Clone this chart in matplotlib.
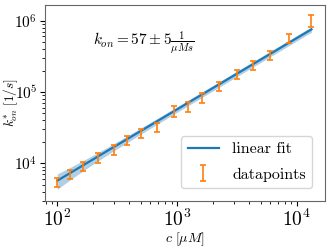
import numpy as np
import matplotlib
matplotlib.use("Agg")
import matplotlib.pyplot as plt

plt.rcParams["mathtext.fontset"] = "cm"
plt.rcParams["font.family"] = ["cmr10", "DejaVu Serif"]
plt.rcParams["axes.formatter.use_mathtext"] = True

# ---------- data ----------
conc = [100, 128, 165, 218, 299, 385, 503, 677, 938, 1227, 1618,
        2244, 3155, 4289, 5984, 8669, 13250]                     # c [uM]
k_obs = [5470, 7010, 9080, 11990, 15520, 21000, 26850, 32600, 54700,
         62200, 83200, 121000, 176000, 239000, 330000, 560000, 1020000]
k_err = [790, 1020, 1320, 1740, 2250, 3050, 3900, 4700, 9800,
         9000, 12100, 17500, 25500, 34700, 47900, 81000, 194000]

# fit parameters
slope, slope_err = 57.0, 5.0
icpt_err = 1300.0

# ---------- plot ----------
fig = plt.figure(figsize=(3.32, 2.48), dpi=100)
ax = fig.add_axes([0.1355, 0.1895, 0.8435, 0.7905])

cc = np.geomspace(min(conc), max(conc), 200)
fit = slope * cc
spread = np.sqrt((slope_err * cc) ** 2 + icpt_err ** 2)
ax.fill_between(cc, fit - spread, fit + spread, color="C0", alpha=0.35, lw=0)
ax.plot(cc, fit, color="C0", lw=1.6, label="linear fit")
ax.errorbar(conc, k_obs, yerr=k_err, fmt="none", ecolor="C1",
            elinewidth=1.2, capsize=2, capthick=1.2, label="datapoints")

ax.set_xscale("log")
ax.set_yscale("log")
ax.set_xlim(79, 17200)
ax.set_ylim(2960, 1.66e6)

for sp in ax.spines.values():
    sp.set_color("0.4")
ax.tick_params(axis="x", labelsize=14, pad=2)
ax.tick_params(axis="y", labelsize=11, pad=2)
ax.set_xlabel(r"$c\ [\mu M]$", fontsize=10, labelpad=0)
ax.set_ylabel(r"$k_{on}^{*}\ [1/s]$", fontsize=9.5)
ax.yaxis.set_label_coords(-0.09, 0.5)

ax.text(0.17, 0.81, r"$k_{on} = 57 \pm 5\frac{1}{\mu M s}$",
        transform=ax.transAxes, fontsize=11, va="center", ha="left")

ax.legend(loc="lower right", fontsize=11.5, labelspacing=0.7,
          borderaxespad=0.8)

fig.savefig("out.png", dpi=100)
